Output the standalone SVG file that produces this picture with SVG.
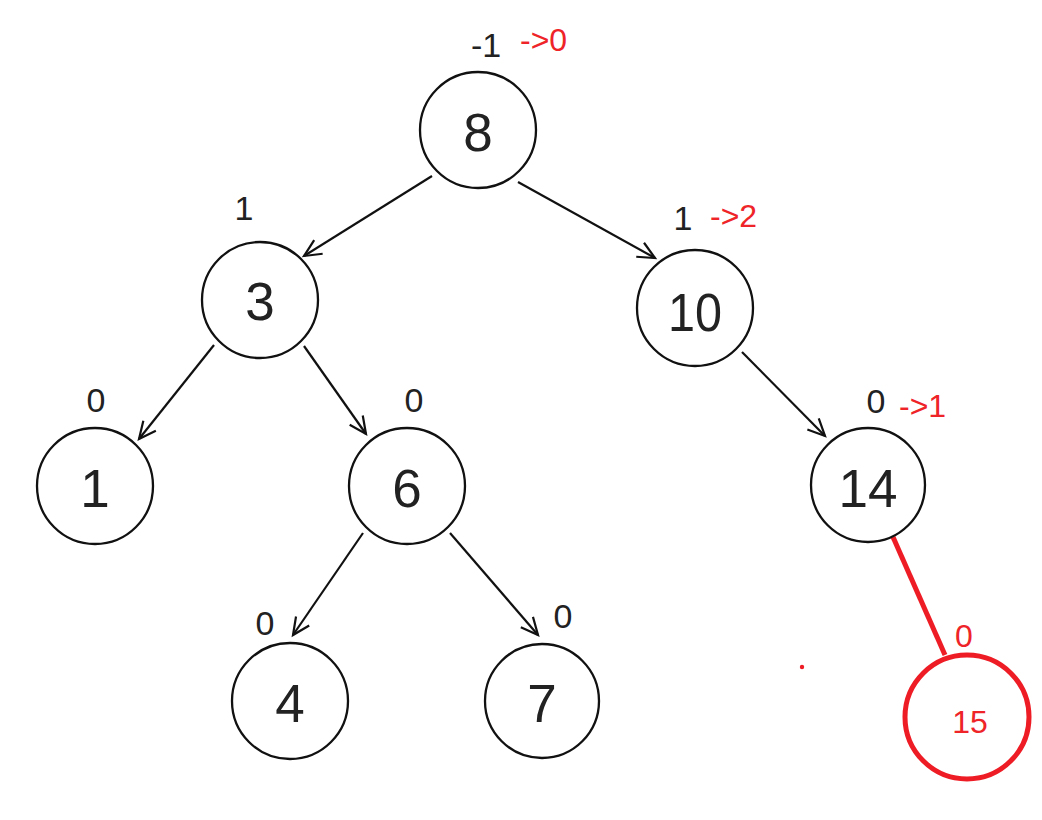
<svg xmlns="http://www.w3.org/2000/svg" width="1042" height="820" viewBox="0 0 1042 820">
<style>
.node circle{fill:#fff;stroke:#111;stroke-width:2.3}
.val{font-family:"Liberation Sans",Arial,sans-serif;font-size:53px;fill:#222;text-anchor:middle}
.bf{font-family:"Liberation Sans",Arial,sans-serif;font-size:34px;fill:#222;text-anchor:middle}
.red{font-family:"Liberation Sans",Arial,sans-serif;font-size:32px;fill:#ee2428}
.edge{stroke:#111;stroke-width:2.2;fill:none;marker-end:url(#arr)}
</style>
<defs>
<marker id="arr" markerUnits="userSpaceOnUse" markerWidth="22" markerHeight="22" refX="18" refY="9" orient="auto" viewBox="0 0 22 18">
<path d="M1,1 L18,9 L1,17" fill="none" stroke="#111" stroke-width="2.2"/>
</marker>
</defs>
<rect width="1042" height="820" fill="#fff"/>
<g id="connectors">
<line class="edge" x1="432" y1="176" x2="304" y2="256"/>
<line class="edge" x1="518" y1="182" x2="655" y2="258"/>
<line class="edge" x1="214" y1="345" x2="139" y2="439"/>
<line class="edge" x1="304" y1="346" x2="366" y2="434"/>
<line class="edge" x1="742" y1="352" x2="825" y2="436"/>
<line class="edge" x1="363" y1="533" x2="293" y2="635"/>
<line class="edge" x1="450" y1="533" x2="538" y2="635"/>
<line x1="893" y1="537" x2="945" y2="655" stroke="#ee1c25" stroke-width="5"/>
</g>
<g id="n8" class="node"><circle cx="478" cy="130" r="58"/><text class="val" x="478" y="151">8</text></g>
<g id="n3" class="node"><circle cx="260" cy="300" r="58"/><text class="val" x="260" y="320">3</text></g>
<g id="n10" class="node"><circle cx="695" cy="308" r="58"/><text class="val" x="695" y="331" textLength="54" lengthAdjust="spacingAndGlyphs">10</text></g>
<g id="n14" class="node"><circle cx="868" cy="485" r="57"/><text class="val" x="868" y="507">14</text></g>
<g id="n1" class="node"><circle cx="95" cy="486" r="58"/><text class="val" x="95" y="507">1</text></g>
<g id="n6" class="node"><circle cx="407" cy="486" r="58"/><text class="val" x="407" y="507">6</text></g>
<g id="n4" class="node"><circle cx="290" cy="701" r="58"/><text class="val" x="290" y="722">4</text></g>
<g id="n7" class="node"><circle cx="542" cy="701" r="57"/><text class="val" x="542" y="722">7</text></g>
<g id="n15"><circle cx="967" cy="717" r="62" fill="none" stroke="#ee1c25" stroke-width="5"/><text class="red" x="970" y="733" text-anchor="middle">15</text></g>
<g id="labels">
<text class="bf" x="486" y="57">-1</text>
<text class="red" x="520" y="51">-&gt;0</text>
<text class="bf" x="244" y="220" font-size="30">1</text>
<text class="bf" x="683" y="230">1</text>
<text class="red" x="710" y="227">-&gt;2</text>
<text class="bf" x="96" y="412">0</text>
<text class="bf" x="414" y="412">0</text>
<text class="bf" x="876" y="413">0</text>
<text class="red" x="899" y="417">-&gt;1</text>
<text class="bf" x="265" y="635">0</text>
<text class="bf" x="563" y="628">0</text>
<text class="red" x="964" y="647" text-anchor="middle" font-size="33">0</text>
</g>
<circle cx="802" cy="667" r="2.2" fill="#ee1c25"/>
</svg>
